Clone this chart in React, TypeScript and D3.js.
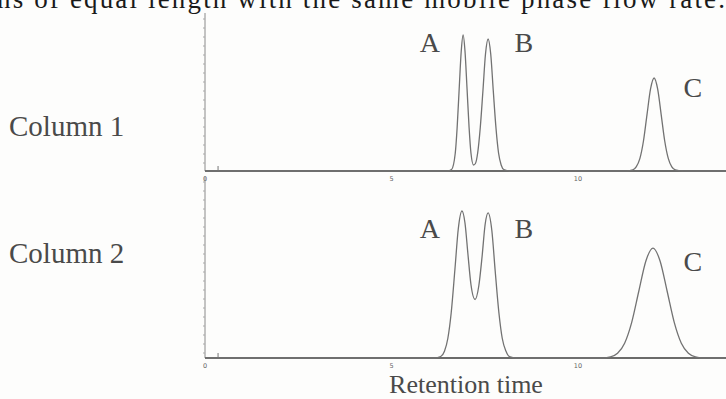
import { useEffect, useRef } from 'react';
import * as d3 from 'd3';

// retention time (min) / relative detector signal
const col1Time = [0, 6.5, 6.61, 6.71, 6.76, 6.815, 6.87, 6.92, 6.97, 7.025, 7.08, 7.13, 7.2, 7.25, 7.31, 7.38, 7.45, 7.52, 7.59, 7.66, 7.73, 7.8, 7.87, 7.94, 8.01, 8.2, 11.3, 11.47, 11.56, 11.66, 11.755, 11.85, 11.945, 12.04, 12.135, 12.23, 12.325, 12.42, 12.515, 12.61, 12.8, 14];
const col1Signal = [0, 0, 0.01, 0.12, 0.29, 0.55, 0.8, 0.907, 0.8, 0.55, 0.29, 0.12, 0.04, 0.05, 0.12, 0.29, 0.53, 0.78, 0.88, 0.78, 0.53, 0.29, 0.12, 0.04, 0.01, 0, 0, 0.007, 0.027, 0.084, 0.2, 0.376, 0.547, 0.62, 0.547, 0.376, 0.2, 0.084, 0.027, 0.007, 0, 0];

const col2Time = [0, 6.15, 6.32, 6.42, 6.51, 6.6, 6.7, 6.79, 6.89, 6.97, 7.05, 7.13, 7.24, 7.34, 7.43, 7.51, 7.59, 7.69, 7.78, 7.88, 7.97, 8.07, 8.16, 8.35, 10.6, 10.87, 11.06, 11.25, 11.44, 11.63, 11.82, 12.01, 12.2, 12.39, 12.58, 12.77, 12.96, 13.15, 13.4, 14];
const col2Signal = [0, 0, 0.01, 0.045, 0.13, 0.3, 0.59, 0.86, 0.98, 0.9, 0.69, 0.49, 0.39, 0.48, 0.68, 0.89, 0.967, 0.85, 0.58, 0.3, 0.13, 0.045, 0.01, 0, 0, 0.008, 0.032, 0.099, 0.238, 0.445, 0.647, 0.733, 0.647, 0.445, 0.238, 0.099, 0.032, 0.008, 0, 0];

const peakNames = ['A', 'B', 'C'];
const peakLabelTime = [6.03, 8.55, 13.08];
const columnNames = ['Column 1', 'Column 2'];
const xTicks = [0, 5, 10];

const App: React.FC = () => {
    const ref = useRef<SVGSVGElement>(null);

    useEffect(() => {
        const width = 726;
        const height = 399;
        const svg = d3.select(ref.current);
        svg.selectAll('*').remove();
        svg.attr('width', width).attr('height', height);

        svg.append('rect').attr('width', width).attr('height', height).attr('fill', '#fdfdfc');

        const x = d3.scaleLinear().domain([0, 10]).range([205, 578]);

        const panels = [
            { time: col1Time, signal: col1Signal, y: d3.scaleLinear().domain([0, 1]).range([171, 21]), top: 13, labelY: 52, nameY: 136 },
            { time: col2Time, signal: col2Signal, y: d3.scaleLinear().domain([0, 1]).range([358, 208]), top: 176, labelY: 238, nameY: 263 },
        ];

        // cut-off line of text from the page above
        svg.append('text')
            .attr('x', -3)
            .attr('y', 8)
            .attr('font-family', 'Liberation Serif, serif')
            .attr('font-size', 27)
            .attr('fill', '#1a1a1a')
            .attr('textLength', 728)
            .text('ns of equal length with the same mobile phase flow rate.');

        panels.forEach((p, i) => {
            const base = p.y(0);
            const g = svg.append('g');

            // left axis with little minor ticks
            g.append('line')
                .attr('x1', x(0)).attr('x2', x(0))
                .attr('y1', p.top).attr('y2', base)
                .attr('stroke', '#8a8a8a').attr('stroke-width', 1);
            d3.range(p.top + 6, base - 2, 9).forEach(v => {
                g.append('line')
                    .attr('x1', x(0) - 2).attr('x2', x(0))
                    .attr('y1', v).attr('y2', v)
                    .attr('stroke', '#aaa').attr('stroke-width', 1);
            });

            // baseline / time axis
            g.append('line')
                .attr('x1', x(0)).attr('x2', width)
                .attr('y1', base).attr('y2', base)
                .attr('stroke', '#3a3a3a').attr('stroke-width', 1.6);

            // injection mark
            g.append('line')
                .attr('x1', x(0.35)).attr('x2', x(0.35))
                .attr('y1', base).attr('y2', base - 5)
                .attr('stroke', '#777').attr('stroke-width', 1);

            g.selectAll('.tick')
                .data(xTicks)
                .enter()
                .append('text')
                .attr('x', d => x(d))
                .attr('y', base + 10)
                .attr('text-anchor', 'middle')
                .attr('font-family', 'DejaVu Sans, sans-serif')
                .attr('font-size', 6.5)
                .attr('fill', '#666')
                .text(d => String(d));

            const line = d3.line<number>()
                .x((d, j) => x(p.time[j]))
                .y(d => p.y(d))
                .curve(d3.curveMonotoneX);

            g.append('path')
                .attr('d', line(p.signal) ?? '')
                .attr('fill', 'none')
                .attr('stroke', '#727272')
                .attr('stroke-width', 1.3);

            g.selectAll('.peak')
                .data(peakNames)
                .enter()
                .append('text')
                .attr('x', (d, j) => x(peakLabelTime[j]))
                .attr('y', (d, j) => (j === 2 ? p.labelY + (i === 0 ? 45 : 33) : p.labelY))
                .attr('text-anchor', 'middle')
                .attr('font-family', 'Liberation Serif, serif')
                .attr('font-size', 28)
                .attr('fill', '#4a4a4a')
                .text(d => d);

            g.append('text')
                .attr('x', 9)
                .attr('y', p.nameY)
                .attr('font-family', 'Liberation Serif, serif')
                .attr('font-size', 29)
                .attr('fill', '#4a4a4a')
                .text(columnNames[i]);
        });

        svg.append('text')
            .attr('x', 466)
            .attr('y', 393)
            .attr('text-anchor', 'middle')
            .attr('font-family', 'Liberation Serif, serif')
            .attr('font-size', 26)
            .attr('fill', '#4a4a4a')
            .text('Retention time');
    }, []);

    return (
        <div style={{ position: 'absolute', top: 0, left: 0 }}>
            <svg ref={ref} />
        </div>
    );
};

export default App;
